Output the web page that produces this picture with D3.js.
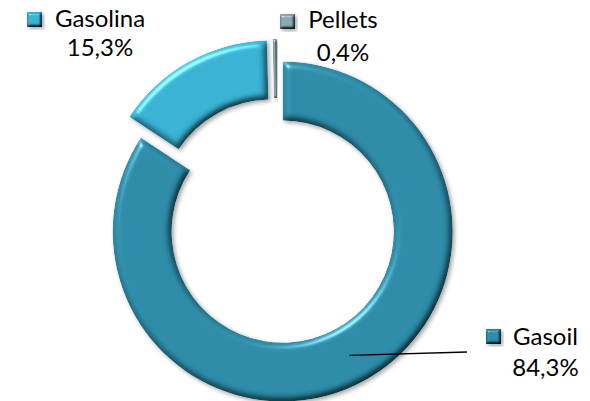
<!DOCTYPE html>
<html>
<head>
<meta charset="utf-8">
<script src="https://cdn.jsdelivr.net/npm/d3@7"></script>
<style>
  html, body { margin: 0; padding: 0; background: #fff; }
  svg { display: block; }
  text { font-family: Lato, "Open Sans", sans-serif; fill: #000; }
</style>
</head>
<body>
<svg id="chart" width="590" height="401"></svg>
<script>
// ---- data ----
const categories = ["Gasoil", "Gasolina", "Pellets"];
const values = [84.3, 15.3, 0.4];
const valueLabels = ["84,3%", "15,3%", "0,4%"];

// ---- styles / layout ----
const colors = { "Gasoil": "#2d8ba7", "Gasolina": "#38b1d3", "Pellets": "#88a6b2" };
const W = 590, H = 401;
const cx = 277, cy = 221;
const outerR = 170, innerR = 111, explode = 12;
const fontSize = 24;
const labelLayout = {
  "Gasolina": { sx: 27, sy: 12, nameX: 100, nameY: 27, valY: 56 },
  "Pellets":  { sx: 280, sy: 14, nameX: 343, nameY: 28, valY: 61 },
  "Gasoil":   { sx: 486, sy: 329, nameX: 545.5, nameY: 345, valY: 376, leaderTo: [467, 352] }
};

const svg = d3.select("#chart");
const defs = svg.append("defs");

function bevelFilter(id, blur, surf) {
  const f = defs.append("filter").attr("id", id)
    .attr("x", "-20%").attr("y", "-20%").attr("width", "140%").attr("height", "140%")
    .attr("color-interpolation-filters", "sRGB");
  f.append("feGaussianBlur").attr("in", "SourceAlpha").attr("stdDeviation", blur).attr("result", "b");
  const dl = f.append("feDiffuseLighting").attr("in", "b").attr("surfaceScale", surf)
    .attr("diffuseConstant", 1.155).attr("lighting-color", "#fff").attr("result", "diff");
  dl.append("feDistantLight").attr("azimuth", 235).attr("elevation", 60);
  f.append("feComposite").attr("in", "SourceGraphic").attr("in2", "diff")
    .attr("operator", "arithmetic").attr("k1", 1).attr("k2", 0).attr("k3", 0).attr("k4", 0).attr("result", "shaded");
  const sl = f.append("feSpecularLighting").attr("in", "b").attr("surfaceScale", surf)
    .attr("specularConstant", 0.45).attr("specularExponent", 40).attr("lighting-color", "#fff").attr("result", "spec");
  sl.append("feDistantLight").attr("azimuth", 235).attr("elevation", 40);
  f.append("feComposite").attr("in", "spec").attr("in2", "SourceAlpha").attr("operator", "in").attr("result", "specIn");
  f.append("feComposite").attr("in", "shaded").attr("in2", "specIn")
    .attr("operator", "arithmetic").attr("k1", 0).attr("k2", 1).attr("k3", 1).attr("k4", 0).attr("result", "lit");
  f.append("feComposite").attr("in", "lit").attr("in2", "SourceAlpha").attr("operator", "in").attr("result", "litIn");
  f.append("feGaussianBlur").attr("in", "SourceAlpha").attr("stdDeviation", 2).attr("result", "sb");
  f.append("feOffset").attr("in", "sb").attr("dx", 2).attr("dy", 2).attr("result", "so");
  f.append("feComponentTransfer").attr("in", "so").attr("result", "sh")
    .append("feFuncA").attr("type", "linear").attr("slope", 0.35);
  const m = f.append("feMerge");
  m.append("feMergeNode").attr("in", "sh");
  m.append("feMergeNode").attr("in", "litIn");
}
bevelFilter("bevelBig", 3.5, 4);
bevelFilter("bevelSmall", 1, 2);
bevelFilter("bevelMarker", 1.5, 3);

const pie = d3.pie().sort(null).value(d => d.value).startAngle(0).endAngle(2 * Math.PI);
const data = categories.map((c, i) => ({ name: c, value: values[i], label: valueLabels[i] }));
const arcs = pie(data);
const arc = d3.arc().innerRadius(innerR).outerRadius(outerR);

const g = svg.append("g").attr("transform", `translate(${cx},${cy})`);

arcs.forEach(a => {
  const mid = (a.startAngle + a.endAngle) / 2;
  a.dx = Math.sin(mid) * explode;
  a.dy = -Math.cos(mid) * explode;
});

g.selectAll("path.slice").data(arcs).join("path")
  .attr("class", "slice")
  .attr("transform", d => `translate(${d.dx},${d.dy})`)
  .attr("d", arc)
  .attr("fill", d => colors[d.data.name])
  .attr("filter", d => (d.endAngle - d.startAngle) < 0.1 ? "url(#bevelSmall)" : "url(#bevelBig)");

// leader line for Gasoil
arcs.forEach(a => {
  const L = labelLayout[a.data.name];
  if (L.leaderTo) {
    const c = arc.centroid(a);
    svg.append("line")
      .attr("x1", cx + a.dx + c[0]).attr("y1", cy + a.dy + c[1])
      .attr("x2", L.leaderTo[0]).attr("y2", L.leaderTo[1])
      .attr("stroke", "#000").attr("stroke-width", 1.3);
  }
});

// labels
const lab = svg.append("g");
arcs.forEach(a => {
  const L = labelLayout[a.data.name];
  lab.append("rect").attr("x", L.sx).attr("y", L.sy).attr("width", 15).attr("height", 15)
    .attr("fill", colors[a.data.name]).attr("filter", "url(#bevelMarker)");
  lab.append("text").attr("x", L.nameX).attr("y", L.nameY).attr("text-anchor", "middle")
    .attr("font-size", fontSize).text(a.data.name);
  lab.append("text").attr("x", L.nameX).attr("y", L.valY).attr("text-anchor", "middle")
    .attr("font-size", fontSize).text(a.data.label);
});
</script>
</body>
</html>
